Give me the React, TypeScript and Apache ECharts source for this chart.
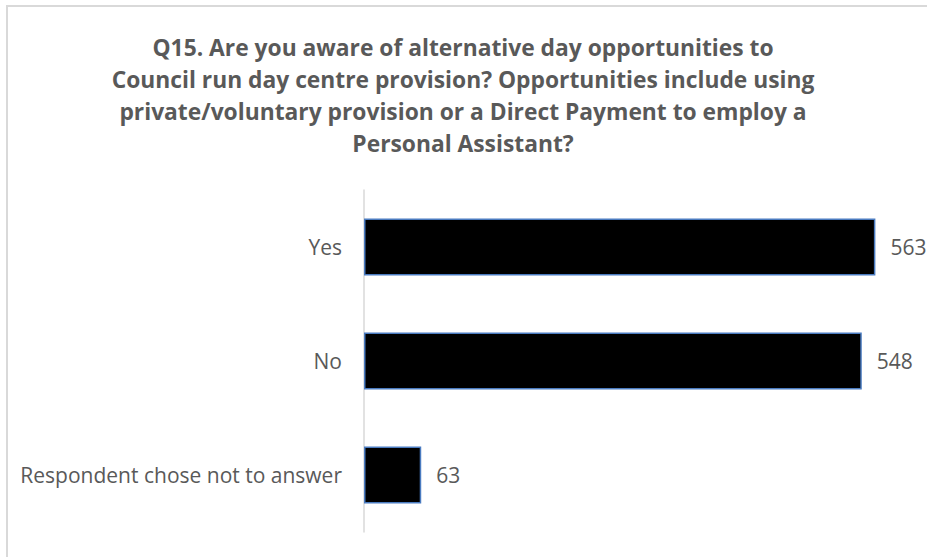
import React, { useEffect, useRef } from "react";
import * as echarts from "echarts";

const titleLines = [
  "Q15. Are you aware of alternative day opportunities to",
  "Council run day centre provision? Opportunities include using",
  "private/voluntary provision or a Direct Payment to employ a",
  "Personal Assistant?",
];
const categories = ["Yes", "No", "Respondent chose not to answer"];
const values = [563, 548, 63];
const axisMax = 600;

export default function App() {
  const ref = useRef<HTMLDivElement>(null);
  useEffect(() => {
    if (!ref.current) return;
    const chart = echarts.init(ref.current, null, { renderer: "svg" });
    const font = "'Open Sans', 'Noto Sans', sans-serif";
    chart.setOption({
      animation: false,
      backgroundColor: "#ffffff",
      graphic: [
        {
          type: "polyline",
          shape: { points: [[7, 600], [7, 6], [1000, 6]] },
          style: { stroke: "#d9d9d9", lineWidth: 2, fill: null },
          silent: true,
        },
        {
          type: "text",
          x: 463,
          y: 31,
          silent: true,
          style: {
            text: titleLines.join("\n"),
            align: "center",
            verticalAlign: "top",
            fontFamily: font,
            fontWeight: "bold",
            fontSize: 22.8,
            lineHeight: 32,
            fill: "#595959",
          },
        },
      ],
      grid: { left: 364, right: 18, top: 190, height: 342 },
      xAxis: { type: "value", min: 0, max: axisMax, show: false },
      yAxis: {
        type: "category",
        data: categories,
        inverse: true,
        axisLine: { show: true, lineStyle: { color: "#d9d9d9", width: 1.5 } },
        axisTick: { show: false },
        axisLabel: {
          margin: 22,
          color: "#595959",
          fontFamily: font,
          fontSize: 21,
        },
      },
      series: [
        {
          type: "bar",
          data: values,
          barWidth: 57,
          itemStyle: { color: "#000000", borderColor: "#4a7bc0", borderWidth: 1.5 },
          label: {
            show: true,
            position: "right",
            distance: 15,
            color: "#595959",
            fontFamily: font,
            fontSize: 21,
          },
        },
      ],
    });
    return () => chart.dispose();
  }, []);
  return (
    <div
      ref={ref}
      style={{ position: "fixed", left: 0, top: 0, width: 927, height: 557 }}
    />
  );
}
